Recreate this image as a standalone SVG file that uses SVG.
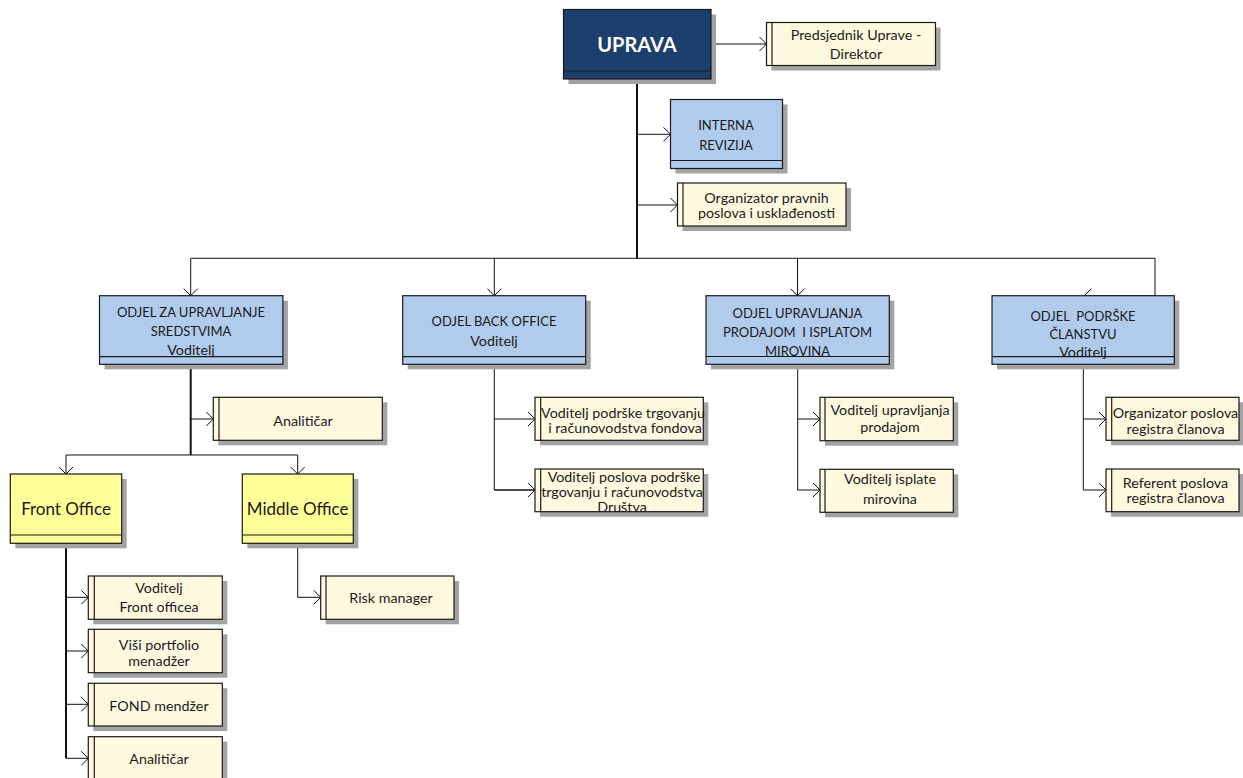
<svg xmlns="http://www.w3.org/2000/svg" width="1243" height="778" viewBox="0 0 1243 778">
<defs>
<style>
.sh{fill:#a3a3a3}
.bx{stroke:#1a1a1a;stroke-width:1.2}
.top{fill:#1c3f6e}
.dept{fill:#b0cbec}
.cream{fill:#fffadf}
.yel{fill:#ffff99}
.dv{stroke:#1a1a1a;stroke-width:1.2;fill:none}
text{font-family:Lato,"Liberation Sans",sans-serif;font-size:14.3px;fill:#1a1a1a;text-anchor:middle;white-space:pre}
.up{font-size:13px}
.big{font-size:17px}
.tt{font-size:20px;font-weight:bold;fill:#ffffff}
.c{fill:none;stroke:#111;stroke-width:1}
.thick{stroke-width:2}
</style>
<marker id="arr" viewBox="0 0 10 16" markerWidth="10" markerHeight="16" refX="8" refY="8" orient="auto" markerUnits="userSpaceOnUse">
<path d="M1,1 L8,8 L1,15" fill="none" stroke="#111" stroke-width="1"/>
</marker>
</defs>
<rect width="1243" height="778" fill="#ffffff"/>

<g id="connectors">
<path class="c" d="M711,44 H766.5" marker-end="url(#arr)"/>
<path class="c thick" d="M637,79 V258.3"/>
<path class="c" d="M637,134.3 H670.5" marker-end="url(#arr)"/>
<path class="c" d="M637,205 H677.5" marker-end="url(#arr)"/>
<path class="c" d="M190.7,258.3 H1155"/>
<path class="c" d="M190.7,258.3 V295.7" marker-end="url(#arr)"/>
<path class="c" d="M494.3,258.3 V295.7" marker-end="url(#arr)"/>
<path class="c" d="M797.5,258.3 V295.7" marker-end="url(#arr)"/>
<path class="c" d="M1155,258.3 V295.7 H1084.3" marker-end="url(#arr)"/>
<path class="c thick" d="M190.7,364 V455"/>
<path class="c" d="M190.7,419 H213.3" marker-end="url(#arr)"/>
<path class="c" d="M66,455 H297.7"/>
<path class="c" d="M66,455 V474" marker-end="url(#arr)"/>
<path class="c" d="M297.7,455 V474" marker-end="url(#arr)"/>
<path class="c thick" d="M66,543 V758.3"/>
<path class="c" d="M66,597.3 H88.3" marker-end="url(#arr)"/>
<path class="c" d="M66,651 H88.3" marker-end="url(#arr)"/>
<path class="c" d="M66,704.3 H88.3" marker-end="url(#arr)"/>
<path class="c" d="M66,758.3 H88.3" marker-end="url(#arr)"/>
<path class="c" d="M297.7,543 V597.3 H320.7" marker-end="url(#arr)"/>
<path class="c" d="M494.3,364 V490 H535"/>
<path class="c" d="M494.3,419 H535" marker-end="url(#arr)"/>
<path class="c" d="M494.3,490 H535" marker-end="url(#arr)"/>
<path class="c" d="M797.7,364 V490"/>
<path class="c" d="M797.7,419 H820" marker-end="url(#arr)"/>
<path class="c" d="M797.7,490 H820" marker-end="url(#arr)"/>
<path class="c" d="M1083.3,364 V490"/>
<path class="c" d="M1083.3,419 H1106" marker-end="url(#arr)"/>
<path class="c" d="M1083.3,490 H1106" marker-end="url(#arr)"/>
</g>

<g id="uprava">
<rect class="sh" x="568.5" y="14.5" width="147.5" height="69.5"/>
<rect class="bx top" x="563.5" y="9.5" width="147.5" height="69.5"/>
<line class="dv" x1="563.5" y1="71" x2="711" y2="71"/>
<text class="tt" x="637" y="52.3">UPRAVA</text>
</g>

<g id="predsjednik">
<rect class="sh" x="771.5" y="27.5" width="169" height="43"/>
<rect class="bx cream" x="766.5" y="22.5" width="169" height="43"/>
<line class="dv" x1="772" y1="22.5" x2="772" y2="65.5"/>
<text x="856" y="40">Predsjednik Uprave -</text>
<text x="856" y="58.5">Direktor</text>
</g>

<g id="interna">
<rect class="sh" x="675.5" y="104.5" width="112" height="69"/>
<rect class="bx dept" x="670.5" y="99.5" width="112" height="69"/>
<line class="dv" x1="670.5" y1="160.5" x2="782.5" y2="160.5"/>
<text class="up" x="726" y="130">INTERNA</text>
<text class="up" x="726" y="150">REVIZIJA</text>
</g>

<g id="organizator-pravnih">
<rect class="sh" x="682.5" y="188" width="168.5" height="43"/>
<rect class="bx cream" x="677.5" y="183" width="168.5" height="43"/>
<line class="dv" x1="683" y1="183" x2="683" y2="226"/>
<text x="766.5" y="202.7">Organizator pravnih</text>
<text x="766.5" y="218.3">poslova i usklađenosti</text>
</g>

<g id="odjel-sredstva">
<rect class="sh" x="104.5" y="300.7" width="183.4" height="68.6"/>
<rect class="bx dept" x="99.5" y="295.7" width="183.4" height="68.6"/>
<line class="dv" x1="99.5" y1="356.7" x2="282.9" y2="356.7"/>
<text class="up" x="191" y="316.7">ODJEL ZA UPRAVLJANJE</text>
<text class="up" x="191" y="335.7">SREDSTVIMA</text>
<text x="191" y="355">Voditelj</text>
</g>

<g id="odjel-back-office">
<rect class="sh" x="407.7" y="300.7" width="183" height="68.6"/>
<rect class="bx dept" x="402.7" y="295.7" width="183" height="68.6"/>
<line class="dv" x1="402.7" y1="356.7" x2="585.7" y2="356.7"/>
<text class="up" x="494" y="326">ODJEL BACK OFFICE</text>
<text x="494" y="345.7">Voditelj</text>
</g>

<g id="odjel-prodaja">
<rect class="sh" x="711" y="300.7" width="183.3" height="68.6"/>
<rect class="bx dept" x="706" y="295.7" width="183.3" height="68.6"/>
<line class="dv" x1="706" y1="356.5" x2="889.3" y2="356.5"/>
<text class="up" x="797.5" y="317.7">ODJEL UPRAVLJANJA</text>
<text class="up" x="797.5" y="336.7">PRODAJOM  I ISPLATOM</text>
<text class="up" x="797.5" y="356">MIROVINA</text>
</g>

<g id="odjel-clanstvo">
<rect class="sh" x="997" y="300.7" width="182.3" height="68.6"/>
<rect class="bx dept" x="992" y="295.7" width="182.3" height="68.6"/>
<line class="dv" x1="992" y1="356.7" x2="1174.3" y2="356.7"/>
<text class="up" x="1083" y="320.7">ODJEL  PODRŠKE</text>
<text class="up" x="1083" y="339.3">ČLANSTVU</text>
<text x="1083" y="356.5">Voditelj</text>
</g>

<g id="analiticar-1">
<rect class="sh" x="218.3" y="402.3" width="169" height="43"/>
<rect class="bx cream" x="213.3" y="397.3" width="169" height="43"/>
<line class="dv" x1="219" y1="397.3" x2="219" y2="440.3"/>
<text x="303" y="425.7">Analitičar</text>
</g>

<g id="front-office">
<rect class="sh" x="15.3" y="479" width="111.4" height="69.3"/>
<rect class="bx yel" x="10.3" y="474" width="111.4" height="69.3"/>
<line class="dv" x1="10.3" y1="535" x2="121.7" y2="535"/>
<text class="big" x="66" y="515">Front Office</text>
</g>

<g id="middle-office">
<rect class="sh" x="247.3" y="479" width="111" height="69.3"/>
<rect class="bx yel" x="242.3" y="474" width="111" height="69.3"/>
<line class="dv" x1="242.3" y1="535" x2="353.3" y2="535"/>
<text class="big" x="297.7" y="515">Middle Office</text>
</g>

<g id="voditelj-podrske">
<rect class="sh" x="540" y="402.3" width="168.3" height="43"/>
<rect class="bx cream" x="535" y="397.3" width="168.3" height="43"/>
<line class="dv" x1="540.7" y1="397.3" x2="540.7" y2="440.3"/>
<text x="623" y="417.7">Voditelj podrške trgovanju</text>
<text x="625" y="433.3">i računovodstva fondova</text>
</g>

<g id="voditelj-poslova-podrske">
<rect class="sh" x="540" y="474" width="168.3" height="42.7"/>
<rect class="bx cream" x="535" y="469" width="168.3" height="42.7"/>
<line class="dv" x1="540.7" y1="469" x2="540.7" y2="511.7"/>
<text x="624" y="482.3">Voditelj poslova podrške</text>
<text x="622" y="497.3">trgovanju i računovodstva</text>
<text x="622" y="512">Društva</text>
</g>

<g id="voditelj-prodaje">
<rect class="sh" x="825" y="402.3" width="133.3" height="43.4"/>
<rect class="bx cream" x="820" y="397.3" width="133.3" height="43.4"/>
<line class="dv" x1="825" y1="397.3" x2="825" y2="440.7"/>
<text x="890" y="415">Voditelj upravljanja</text>
<text x="890" y="432">prodajom</text>
</g>

<g id="voditelj-isplate">
<rect class="sh" x="825" y="474.3" width="133.3" height="43"/>
<rect class="bx cream" x="820" y="469.3" width="133.3" height="43"/>
<line class="dv" x1="825" y1="469.3" x2="825" y2="512.3"/>
<text x="890" y="484">Voditelj isplate</text>
<text x="890" y="504">mirovina</text>
</g>

<g id="organizator-registra">
<rect class="sh" x="1111" y="402.3" width="133" height="43"/>
<rect class="bx cream" x="1106" y="397.3" width="133" height="43"/>
<line class="dv" x1="1111.7" y1="397.3" x2="1111.7" y2="440.3"/>
<text x="1175.5" y="418">Organizator poslova</text>
<text x="1175.5" y="434">registra članova</text>
</g>

<g id="referent-registra">
<rect class="sh" x="1111" y="474" width="133" height="42.7"/>
<rect class="bx cream" x="1106" y="469" width="133" height="42.7"/>
<line class="dv" x1="1111.7" y1="469" x2="1111.7" y2="511.7"/>
<text x="1175.5" y="487.5">Referent poslova</text>
<text x="1175.5" y="502.5">registra članova</text>
</g>

<g id="voditelj-front">
<rect class="sh" x="93.3" y="581" width="134" height="43.3"/>
<rect class="bx cream" x="88.3" y="576" width="134" height="43.3"/>
<line class="dv" x1="94.3" y1="576" x2="94.3" y2="619.3"/>
<text x="159" y="593.3">Voditelj</text>
<text x="159" y="611.7">Front officea</text>
</g>

<g id="visi-portfolio">
<rect class="sh" x="93.3" y="634.3" width="134" height="43.4"/>
<rect class="bx cream" x="88.3" y="629.3" width="134" height="43.4"/>
<line class="dv" x1="94.3" y1="629.3" x2="94.3" y2="672.7"/>
<text x="159" y="650">Viši portfolio</text>
<text x="159" y="666">menadžer</text>
</g>

<g id="fond-menadzer">
<rect class="sh" x="93.3" y="688.3" width="134" height="42.7"/>
<rect class="bx cream" x="88.3" y="683.3" width="134" height="42.7"/>
<line class="dv" x1="94.3" y1="683.3" x2="94.3" y2="726"/>
<text x="159" y="710.7">FOND mendžer</text>
</g>

<g id="analiticar-2">
<rect class="sh" x="93.3" y="741.7" width="134" height="43"/>
<rect class="bx cream" x="88.3" y="736.7" width="134" height="43"/>
<line class="dv" x1="94.3" y1="736.7" x2="94.3" y2="779.7"/>
<text x="159" y="764">Analitičar</text>
</g>

<g id="risk-manager">
<rect class="sh" x="325.7" y="581" width="133.3" height="43.3"/>
<rect class="bx cream" x="320.7" y="576" width="133.3" height="43.3"/>
<line class="dv" x1="326" y1="576" x2="326" y2="619.3"/>
<text x="391" y="603.3">Risk manager</text>
</g>
</svg>
